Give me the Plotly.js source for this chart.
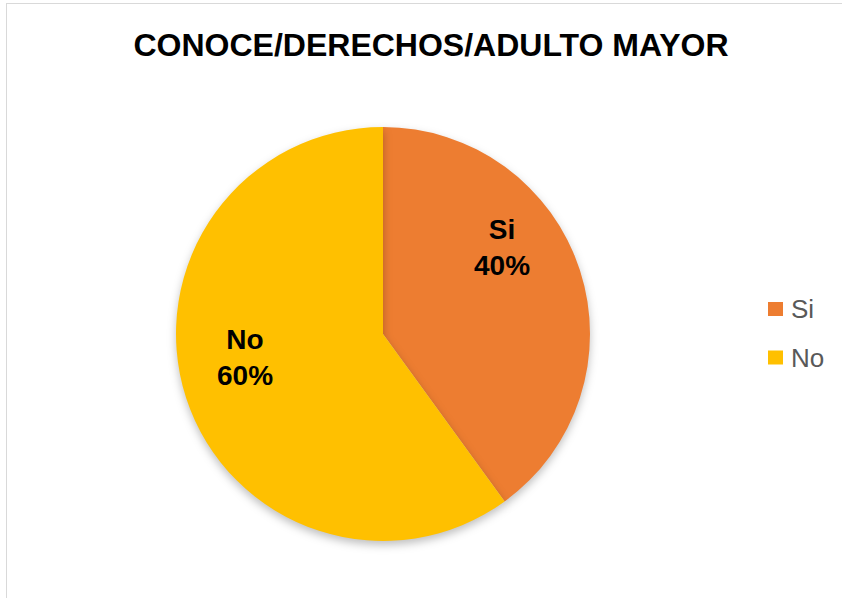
<!DOCTYPE html>
<html>
<head>
<meta charset="utf-8">
<script src="https://cdn.plot.ly/plotly-3.0.1.min.js"></script>
<style>
  html, body { margin: 0; padding: 0; background: #fff; }
  #chart { width: 842px; height: 598px; position: relative; }
  #frame { position: absolute; left: 6px; top: 3px; width: 840px; height: 600px;
           border-left: 1px solid #d9d9d9; border-top: 1px solid #d9d9d9; pointer-events: none; }
  .pielayer .slice path.surface { filter: drop-shadow(0px 4px 4px rgba(0,0,0,0.25)); }
</style>
</head>
<body>
<div id="chart"></div>
<div id="frame"></div>
<script>
const titleText = "CONOCE/DERECHOS/ADULTO MAYOR";
const categories = ["Si", "No"];
const values = [40, 60];
const colors = ["#ED7D31", "#FFC000"];

const W = 842, H = 598;
const px = x => x / W;
const py = y => 1 - y / H;

const total = values.reduce((a, b) => a + b, 0);
const pctText = values.map(v => Math.round(100 * v / total) + "%");

const cx = 383, cy = 334, r = 207;

const trace = {
  type: "pie",
  labels: categories,
  values: values,
  sort: false,
  direction: "clockwise",
  rotation: 0,
  marker: { colors: colors, line: { color: "#ffffff", width: 0 } },
  textinfo: "none",
  hoverinfo: "label+percent",
  showlegend: false,
  domain: { x: [px(cx - r), px(cx + r)], y: [py(cy + r), py(cy - r)] }
};

const labelPos = [[502, 248], [245, 357]];
const annotations = categories.map((c, i) => ({
  xref: "paper", yref: "paper",
  x: px(labelPos[i][0]), y: py(labelPos[i][1]),
  text: "<b>" + c + "<br>" + pctText[i] + "</b>",
  showarrow: false,
  font: { family: "Liberation Sans, Arial, sans-serif", size: 28, color: "#000000" },
  align: "center", xanchor: "center", yanchor: "middle"
}));

const legendY = [309, 357.5];
const shapes = [];
categories.forEach((c, i) => {
  shapes.push({
    type: "rect", xref: "paper", yref: "paper",
    x0: px(768), x1: px(783), y0: py(legendY[i] + 7), y1: py(legendY[i] - 7),
    fillcolor: colors[i], line: { width: 0 }
  });
  annotations.push({
    xref: "paper", yref: "paper",
    x: px(789), y: py(legendY[i]),
    text: c, showarrow: false,
    font: { family: "Liberation Sans, Arial, sans-serif", size: 26, color: "#595959" },
    xanchor: "left", yanchor: "middle"
  });
});

const layout = {
  width: W, height: H,
  margin: { l: 0, r: 0, t: 0, b: 0 },
  paper_bgcolor: "#ffffff",
  title: {
    text: "<b>" + titleText + "</b>",
    x: px(431), xanchor: "center",
    y: py(45), yanchor: "middle", yref: "container", xref: "container",
    font: { family: "Liberation Sans, Arial, sans-serif", size: 32, color: "#000000" }
  },
  annotations: annotations,
  shapes: shapes
};

Plotly.newPlot("chart", [trace], layout, { displayModeBar: false, staticPlot: true });
</script>
</body>
</html>
